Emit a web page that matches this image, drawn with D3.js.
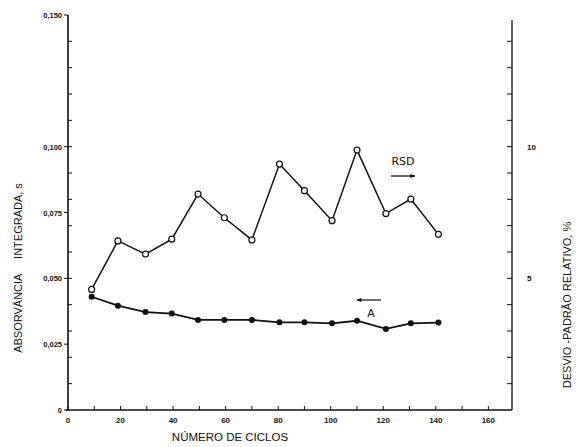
<!DOCTYPE html>
<html>
  <head>
    <meta charset="UTF-8">
    <title>Absorvância e RSD vs número de ciclos</title>
    <script src="https://d3js.org/d3.v7.min.js"></script>
    <style>
      body { margin: 0; background: #fff; }
      text { font-family: "Liberation Sans", Arial, sans-serif; fill: #111; }
    </style>
  </head>
  <body>
    <div id="chart"></div>
    <script>
      // data
      const ciclos = [9, 19, 29.5, 39.5, 49.5, 59.5, 70, 80.5, 90, 100.5, 110, 121, 130.5, 141];
      const absorvancia = [0.0430, 0.0396, 0.0372, 0.0366, 0.0342, 0.0342, 0.0342, 0.0333, 0.0333, 0.0329, 0.0339, 0.0308, 0.0329, 0.0332];
      const rsd = [4.58, 6.42, 5.92, 6.49, 8.20, 7.30, 6.46, 9.34, 8.33, 7.19, 9.87, 7.46, 8.01, 6.67];
      const xTicks = [0, 20, 40, 60, 80, 100, 120, 140, 160];
      const yLeftTicks = [0, 0.025, 0.05, 0.075, 0.1, 0.15];
      const yRightTicks = [5, 10];

      const W = 579, H = 447;
      const svg = d3.select("#chart").append("svg")
        .attr("width", W).attr("height", H);

      const x = d3.scaleLinear().domain([0, 169]).range([68, 512]);
      const yL = d3.scaleLinear().domain([0, 0.15]).range([410, 15]);
      const yR = d3.scaleLinear().domain([0, 15]).range([410, 15]);

      // axis lines
      svg.append("line").attr("x1", 68).attr("x2", 68).attr("y1", yL(0.15)).attr("y2", yL(0))
        .attr("stroke", "#111").attr("stroke-width", 1.6);
      svg.append("line").attr("x1", 66).attr("x2", 512).attr("y1", 410).attr("y2", 410)
        .attr("stroke", "#111").attr("stroke-width", 1.6);
      svg.append("line").attr("x1", 512).attr("x2", 512).attr("y1", 20).attr("y2", 410)
        .attr("stroke", "#111").attr("stroke-width", 1.3);

      // x axis ticks (inward) and labels
      svg.append("g").selectAll("line").data(d3.range(0, 161, 10)).join("line")
        .attr("x1", d => x(d)).attr("x2", d => x(d))
        .attr("y1", 410).attr("y2", 406)
        .attr("stroke", "#111").attr("stroke-width", 1);
      svg.append("g").selectAll("text").data(xTicks).join("text")
        .attr("x", d => x(d)).attr("y", 423)
        .attr("text-anchor", "middle")
        .style("font-size", "8px").style("font-weight", "bold")
        .text(d => d);

      // left axis: minor ticks every 0.01 inward, labelled ticks outward
      svg.append("g").selectAll("line").data(d3.range(1, 15)).join("line")
        .attr("x1", 68).attr("x2", 72)
        .attr("y1", d => yL(d / 100)).attr("y2", d => yL(d / 100))
        .attr("stroke", "#111").attr("stroke-width", 1);
      svg.append("g").selectAll("line").data(yLeftTicks).join("line")
        .attr("x1", 64).attr("x2", 68)
        .attr("y1", d => yL(d)).attr("y2", d => yL(d))
        .attr("stroke", "#111").attr("stroke-width", 1);
      svg.append("g").selectAll("text").data(yLeftTicks).join("text")
        .attr("x", 62).attr("y", d => yL(d) + 3)
        .attr("text-anchor", "end")
        .style("font-size", "7.5px").style("font-weight", "bold")
        .text(d => d === 0 ? "0" : d3.format(".3f")(d).replace(".", ","));

      // right axis ticks every unit, inward
      svg.append("g").selectAll("line").data(d3.range(1, 15)).join("line")
        .attr("x1", 507).attr("x2", 512)
        .attr("y1", d => yR(d)).attr("y2", d => yR(d))
        .attr("stroke", "#111").attr("stroke-width", 1);
      svg.append("g").selectAll("text").data(yRightTicks).join("text")
        .attr("x", 527).attr("y", d => yR(d) + 3)
        .style("font-size", "8px").style("font-weight", "bold")
        .text(d => d);

      // axis titles
      svg.append("text")
        .attr("transform", "translate(22,268) rotate(-90)")
        .attr("text-anchor", "middle")
        .style("font-size", "11px")
        .attr("xml:space", "preserve")
        .text("ABSORVÂNCIA     INTEGRADA, s");
      svg.append("text")
        .attr("transform", "translate(571,305) rotate(-90)")
        .attr("text-anchor", "middle")
        .style("font-size", "11px")
        .text("DESVIO -PADRÃO RELATIVO, %");
      svg.append("text")
        .attr("x", 230).attr("y", 441)
        .attr("text-anchor", "middle")
        .style("font-size", "11.5px")
        .text("NÚMERO DE CICLOS");

      // series
      const absData = ciclos.map((c, i) => ({c, v: absorvancia[i]}));
      const rsdData = ciclos.map((c, i) => ({c, v: rsd[i]}));

      svg.append("path").datum(rsdData)
        .attr("fill", "none").attr("stroke", "#111").attr("stroke-width", 1.5)
        .attr("d", d3.line().x(d => x(d.c)).y(d => yR(d.v)));
      svg.append("path").datum(absData)
        .attr("fill", "none").attr("stroke", "#111").attr("stroke-width", 1.8)
        .attr("d", d3.line().x(d => x(d.c)).y(d => yL(d.v)));

      svg.append("g").selectAll("circle").data(rsdData).join("circle")
        .attr("cx", d => x(d.c)).attr("cy", d => yR(d.v)).attr("r", 3)
        .attr("fill", "#fff").attr("stroke", "#111").attr("stroke-width", 1.2);
      svg.append("g").selectAll("circle").data(absData).join("circle")
        .attr("cx", d => x(d.c)).attr("cy", d => yL(d.v)).attr("r", 3)
        .attr("fill", "#111");

      // series annotations with arrows
      svg.append("defs").append("marker")
        .attr("id", "arr").attr("viewBox", "0 0 10 10")
        .attr("refX", 9).attr("refY", 5)
        .attr("markerWidth", 5).attr("markerHeight", 4)
        .attr("orient", "auto")
        .append("path").attr("d", "M0,1L10,5L0,9Z").attr("fill", "#111");

      svg.append("text")
        .attr("x", 403).attr("y", 165)
        .attr("text-anchor", "middle")
        .style("font-family", "'DejaVu Sans', sans-serif")
        .style("font-size", "11px")
        .text("RSD");
      svg.append("line")
        .attr("x1", 391).attr("x2", 415).attr("y1", 176).attr("y2", 176)
        .attr("stroke", "#111").attr("stroke-width", 1.3)
        .attr("marker-end", "url(#arr)");

      svg.append("text")
        .attr("x", 371).attr("y", 317)
        .attr("text-anchor", "middle")
        .style("font-family", "'DejaVu Sans', sans-serif")
        .style("font-size", "11px")
        .text("A");
      svg.append("line")
        .attr("x1", 381).attr("x2", 357).attr("y1", 300).attr("y2", 300)
        .attr("stroke", "#111").attr("stroke-width", 1.2)
        .attr("marker-end", "url(#arr)");
    </script>
  </body>
</html>
